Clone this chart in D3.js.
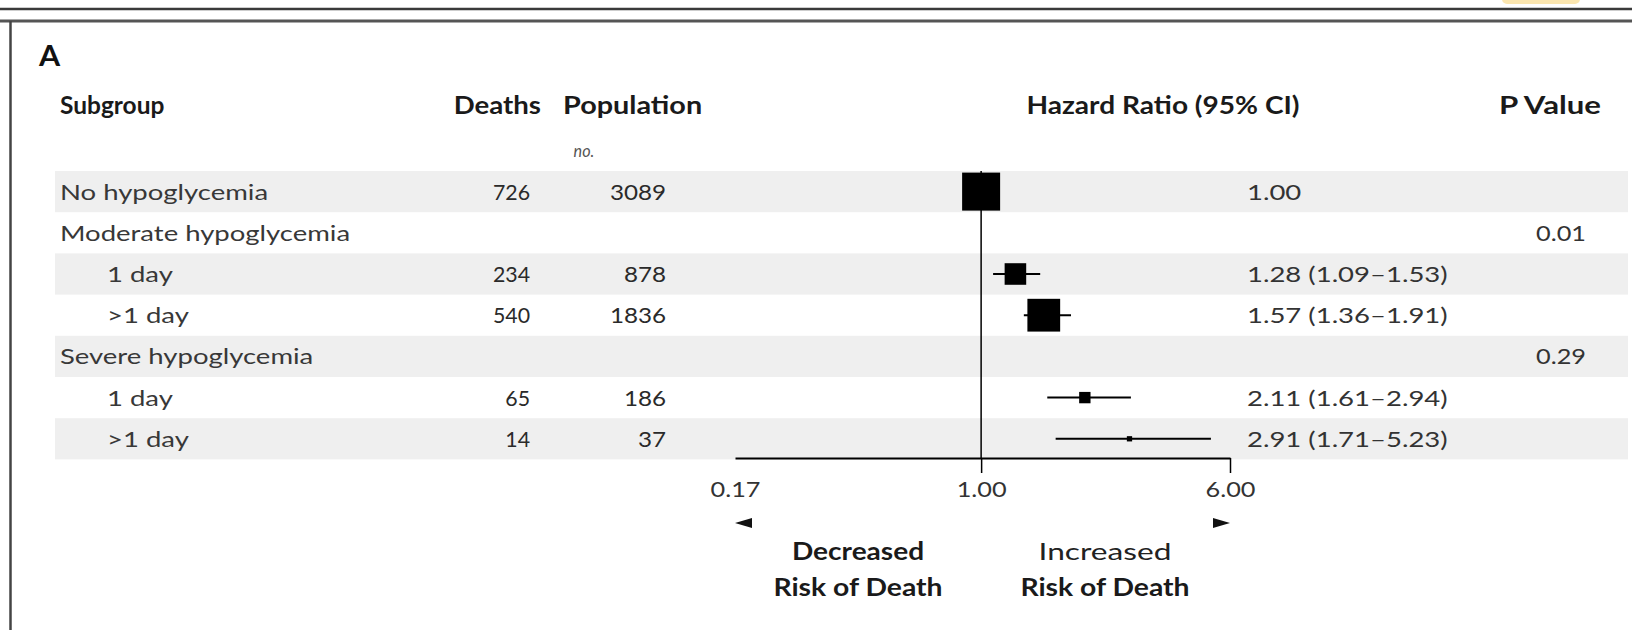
<!DOCTYPE html>
<html>
<head>
<meta charset="utf-8">
<script src="https://cdn.jsdelivr.net/npm/d3@7"></script>
<style>
  html, body { margin: 0; padding: 0; background: #fff; }
  svg { display: block; }
  text { font-family: Lato, "Open Sans", sans-serif; }
</style>
</head>
<body>
<svg id="chart" width="1632" height="630"></svg>
<script>
// ---- data ----
const subgroups = ["No hypoglycemia", "Moderate hypoglycemia", "1 day", ">1 day", "Severe hypoglycemia", "1 day", ">1 day"];
const levels = [0, 0, 1, 1, 0, 1, 1];
const deaths = [726, null, 234, 540, null, 65, 14];
const population = [3089, null, 878, 1836, null, 186, 37];
const hazardRatio = [1.00, null, 1.28, 1.57, null, 2.11, 2.91];
const ciLower = [null, null, 1.09, 1.36, null, 1.61, 1.71];
const ciUpper = [null, null, 1.53, 1.91, null, 2.94, 5.23];
const pValues = [null, "0.01", null, null, "0.29", null, null];
const axisTicks = [0.17, 1.00, 6.00];
const headers = ["Subgroup", "Deaths", "Population", "Hazard Ratio (95% CI)", "P Value"];

// ---- layout ----
const W = 1632, H = 630;
const rowTop = 171, rowH = 41.2;
const SX_LABEL = 1.25;  // horizontal stretch of subgroup labels
const SX_HR = 1.25;     // stretch of HR text
const svg = d3.select("#chart");

const rows = subgroups.map((s, i) => ({
  label: s, level: levels[i], deaths: deaths[i], pop: population[i],
  hr: hazardRatio[i], lo: ciLower[i], hi: ciUpper[i], p: pValues[i]
}));

const y = d3.scaleBand().domain(d3.range(rows.length))
  .range([rowTop, rowTop + rowH * rows.length]).paddingInner(0);
const yc = i => y(i) + y.bandwidth() / 2;

const x = d3.scaleLog().domain([axisTicks[0], axisTicks[axisTicks.length - 1]]).range([735, 1230]);
const size = d3.scaleSqrt().domain([0, d3.max(deaths)]).range([0, 38]);

function txt(g, px, py, str, o = {}) {
  return g.append("text")
    .attr("transform", `translate(${px},${py}) scale(${o.sx || 1},1)`)
    .attr("text-anchor", o.anchor || "start")
    .attr("font-size", o.size || 22)
    .attr("font-weight", o.weight || 400)
    .attr("font-style", o.style || "normal")
    .attr("fill", o.fill || "#2a2a2a")
    .text(str);
}

// frame
svg.append("rect").attr("x", 1502).attr("y", -10).attr("width", 78).attr("height", 14).attr("rx", 5).attr("fill", "#fbe6b0");
svg.append("line").attr("x1", 0).attr("x2", W).attr("y1", 9).attr("y2", 9).attr("stroke", "#3a3a3a").attr("stroke-width", 2.5);
svg.append("line").attr("x1", 0).attr("x2", W).attr("y1", 21).attr("y2", 21).attr("stroke", "#555").attr("stroke-width", 3);
svg.append("line").attr("x1", 10.5).attr("x2", 10.5).attr("y1", 21).attr("y2", H).attr("stroke", "#444").attr("stroke-width", 2.5);

// panel letter
txt(svg, 39, 66, "A", { size: 29, sx: 1.05, fill: "#111", weight: 700 });

// bands
svg.append("g").selectAll("rect").data(rows.filter((d, i) => i % 2 === 0)).join("rect")
  .attr("x", 55).attr("width", W - 55 - 4)
  .attr("y", (d) => y(rows.indexOf(d))).attr("height", y.bandwidth())
  .attr("fill", "#efefef");

// headers
const hy = 114;
const hs = { size: 24, weight: 700, fill: "#1a1a1a" };
txt(svg, 60, hy, headers[0], { ...hs, sx: 1.02 });
txt(svg, 541, hy, headers[1], { ...hs, sx: 1.15, anchor: "end" });
txt(svg, 563, hy, headers[2], { ...hs, sx: 1.2 });
txt(svg, 1163, hy, headers[3], { ...hs, sx: 1.17, anchor: "middle" });
txt(svg, 1550, hy, headers[4], { ...hs, sx: 1.3, anchor: "middle" });
txt(svg, 584, 157, "no.", { size: 18, style: "italic", anchor: "middle", fill: "#555", sx: 0.9 });

// row text
const body = svg.append("g");
rows.forEach((d, i) => {
  const by = yc(i) + 8;
  txt(body, d.level ? 107 : 60, by, d.label, { fill: "#383838", sx: SX_LABEL });
  if (d.deaths != null) txt(body, 530, by, d.deaths, { anchor: "end", sx: 0.97 });
  if (d.pop != null) txt(body, 666, by, d.pop, { anchor: "end", sx: 1.1 });
  if (d.hr != null) {
    const s = d.hr.toFixed(2) + (d.lo != null ? ` (${d.lo.toFixed(2)}\u2013${d.hi.toFixed(2)})` : "");
    txt(body, 1247, by, s, { fill: "#333", sx: SX_HR });
  }
  if (d.p != null) txt(body, 1561, by, d.p, { anchor: "middle", fill: "#333", sx: 1.15 });
});

// reference line
svg.append("line").attr("x1", x(1)).attr("x2", x(1)).attr("y1", rowTop).attr("y2", 458)
  .attr("stroke", "#000").attr("stroke-width", 1.5);

// CI lines and squares
const marks = svg.append("g");
const est = rows.map((d, i) => ({ ...d, i })).filter(d => d.hr != null);
marks.selectAll("line.ci").data(est.filter(d => d.lo != null)).join("line")
  .attr("class", "ci")
  .attr("x1", d => x(d.lo)).attr("x2", d => x(d.hi))
  .attr("y1", d => yc(d.i)).attr("y2", d => yc(d.i))
  .attr("stroke", "#000").attr("stroke-width", 2);
marks.selectAll("rect.sq").data(est).join("rect")
  .attr("class", "sq")
  .attr("x", d => x(d.hr) - size(d.deaths) / 2)
  .attr("y", d => yc(d.i) - size(d.deaths) / 2)
  .attr("width", d => size(d.deaths)).attr("height", d => size(d.deaths))
  .attr("fill", "#000");

// axis
const axisG = svg.append("g").attr("transform", "translate(0,458)")
  .call(d3.axisBottom(x).tickValues(axisTicks).tickFormat(d3.format(".2f")).tickSizeOuter(0).tickSizeInner(15).tickPadding(9));
axisG.select(".domain").attr("stroke", "#000").attr("stroke-width", 2);
axisG.selectAll(".tick line").attr("stroke", "#000").attr("stroke-width", 1.5)
  .filter(d => d === axisTicks[0]).remove();
axisG.selectAll(".tick text")
  .attr("font-family", "Lato, sans-serif").attr("font-size", 22).attr("fill", "#333")
  .attr("y", 0)
  .attr("transform", "translate(0,23) scale(1.15,1)");

// arrows
const ay = 523;
const xl = x(axisTicks[0]);
svg.append("path").attr("d", d3.line()([[xl, ay], [xl + 17, ay - 5], [xl + 17, ay + 5]]) + "Z").attr("fill", "#111");
const xr = x(axisTicks[2]);
svg.append("path").attr("d", d3.line()([[xr, ay], [xr - 17, ay - 5], [xr - 17, ay + 5]]) + "Z").attr("fill", "#111");

// direction labels
const lab = { size: 24, weight: 700, anchor: "middle", fill: "#1a1a1a" };
txt(svg, 858, 560, "Decreased", { ...lab, sx: 1.17 });
txt(svg, 858, 596, "Risk of Death", { ...lab, sx: 1.18 });
txt(svg, 1105, 560, "Increased", { ...lab, sx: 1.32, weight: 400, fill: "#222" });
txt(svg, 1105, 596, "Risk of Death", { ...lab, sx: 1.18 });
</script>
</body>
</html>
